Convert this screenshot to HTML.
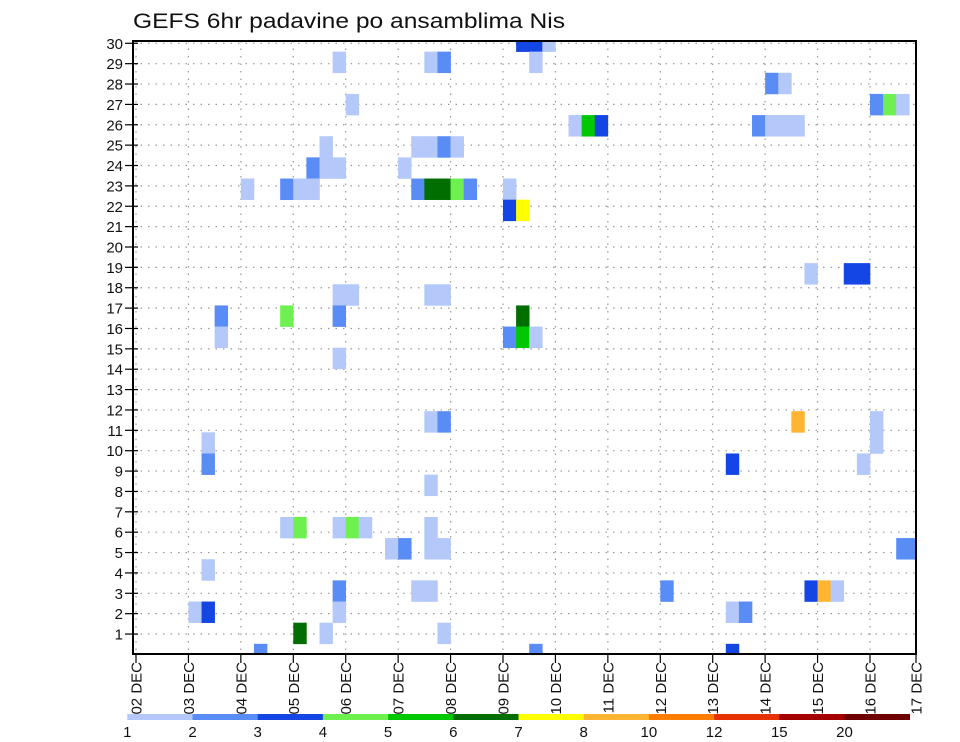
<!DOCTYPE html>
<html>
<head>
<meta charset="utf-8">
<style>
html,body{margin:0;padding:0;background:#fff;}
svg{display:block;}
text{font-family:"Liberation Sans",sans-serif;fill:#111;}
</style>
</head>
<body>
<svg id="chart" width="960" height="742" viewBox="0 0 960 742" xmlns="http://www.w3.org/2000/svg">
  <rect x="0" y="0" width="960" height="742" fill="#fff"/>
  <text x="133" y="28" font-size="21" textLength="432" lengthAdjust="spacingAndGlyphs">GEFS 6hr padavine po ansamblima Nis</text>
  <defs><clipPath id="plotclip"><rect x="133" y="41" width="783" height="613"/></clipPath></defs>
  <g id="grid"></g>
  <g id="cells" clip-path="url(#plotclip)"></g>
  <g id="axes"></g>
  <g id="colorbar"></g>
</svg>
<script>
// ---- data ----
const memberLabels = [1,2,3,4,5,6,7,8,9,10,11,12,13,14,15,16,17,18,19,20,21,22,23,24,25,26,27,28,29,30];
const dayLabels = ["02 DEC","03 DEC","04 DEC","05 DEC","06 DEC","07 DEC","08 DEC","09 DEC","10 DEC","11 DEC","12 DEC","13 DEC","14 DEC","15 DEC","16 DEC","17 DEC"];
const levelLabels = ["1","2","3","4","5","6","7","8","10","12","15","20"];
const levelBounds = [1,2,3,4,5,6,7,8,10,12,15,20,1000];
const levelColors = ["#b4c8fa","#5a8cf5","#1446e6","#6ef050","#00c800","#006e00","#ffff00","#ffb432","#ff7d00","#e63200","#a50000","#6e0000"];
// cell row (ensemble member index), 6h time step index, precipitation value
const cellRow = [29,29,29, 28,28,28,28, 27,27, 26,26,26,26, 25,25,25,25,25,25,25, 24,24,24,24,24, 23,23,23,23,
  22,22,22,22,22,22,22,22,22,22, 21,21, 18,18,18, 17,17,17,17, 16,16,16,16, 15,15,15,15, 14,
  11,11,11,11, 10,10, 9,9,9, 8, 6,6,6,6,6,6, 5,5,5,5,5,5, 4, 3,3,3,3,3,3,3, 2,2,2,2,2, 1,1,1, 0,0,0];
const cellTime = [29,30,31, 15,22,23,30, 48,49, 16,56,57,58, 33,34,35,47,48,49,50, 14,21,22,23,24, 13,14,15,20,
  8,11,12,13,21,22,23,24,25,28, 28,29, 51,54,55, 15,16,22,23, 6,11,15,29, 6,28,29,30, 15,
  22,23,50,56, 5,56, 5,45,55, 22, 11,12,15,16,17,22, 19,20,22,23,58,59, 5, 15,21,22,40,51,52,53, 4,5,15,45,46, 12,14,23, 9,30,45];
const cellValue = [3.5,3.5,1.5, 1.5,1.5,2.5,1.5, 2.5,1.5, 1.5,2.5,4.5,1.5, 1.5,5.5,3.5,2.5,1.5,1.5,1.5, 1.5,1.5,1.5,2.5,1.5, 2.5,1.5,1.5,1.5,
  1.5,2.5,1.5,1.5,2.5,6.5,6.5,4.5,2.5,1.5, 3.5,7.5, 1.5,3.5,3.5, 1.5,1.5,1.5,1.5, 2.5,4.5,2.5,6.5, 1.5,2.5,5.5,1.5, 1.5,
  1.5,2.5,9,1.5, 1.5,1.5, 2.5,3.5,1.5, 1.5, 1.5,4.5,1.5,4.5,1.5,1.5, 1.5,2.5,1.5,1.5,2.5,2.5, 1.5, 2.5,1.5,1.5,2.5,3.5,9,1.5, 1.5,3.5,1.5,1.5,2.5, 6.5,1.5,1.5, 2.5,2.5,3.5];

// ---- axis functions ----
const PL=133, PR=916, PT=41, PB=654;
const xStep = 13.107;
function xTime(t){ return 136 + t*xStep; }
function xDay(d){ return Math.min(136 + d*4*xStep, PR); }
function yMember(m){ return 654.4 - m*20.37; }
function yRow(j){ return 654.4 - j*21.15; }
const rowH = 21.15;
function colorFor(v){ for(let i=0;i<levelColors.length;i++){ if(v>=levelBounds[i] && v<levelBounds[i+1]) return levelColors[i]; } return "#fff"; }
const cbX0 = 127.3, cbW = 65.2;
function xLevel(i){ return cbX0 + i*cbW; }

const NS="http://www.w3.org/2000/svg";
function mk(tag, attrs, parent){ const e=document.createElementNS(NS,tag); for(const k in attrs) e.setAttribute(k, attrs[k]); parent.appendChild(e); return e; }

const grid=document.getElementById('grid');
const cells=document.getElementById('cells');
const axes=document.getElementById('axes');
const cb=document.getElementById('colorbar');

memberLabels.forEach(m=>{
  const y=yMember(m);
  const l=mk('line',{x1:PL,x2:PR,y1:y,y2:y,stroke:'#999','stroke-width':1.2,'stroke-dasharray':'1.5,6'},grid);
  
  
});
dayLabels.forEach((d,i)=>{
  const x=xDay(i);
  const l=mk('line',{x1:x,x2:x,y1:PT,y2:PB,stroke:'#999','stroke-width':1.2,'stroke-dasharray':'1.5,6'},grid);
  
  
});

for(let i=0;i<cellRow.length;i++){
  const x=xTime(cellTime[i]);
  const y=yRow(cellRow[i])-rowH/2;
  const r=mk('rect',{x:x,y:y,width:xStep+0.3,height:rowH+0.3,fill:colorFor(cellValue[i])},cells);
  
  
}

const fr=mk('rect',{x:PL,y:PT,width:PR-PL,height:PB-PT,fill:'none',stroke:'#000','stroke-width':2},axes);



memberLabels.forEach(m=>{
  const y=yMember(m);
  const tk=mk('line',{x1:PL-8,x2:PL+5,y1:y,y2:y,stroke:'#000','stroke-width':1.2},axes);
  
  
  const t=mk('text',{x:PL-10,y:y+5.5,'font-size':15,'text-anchor':'end'},axes);
  t.textContent=String(m);
  
  
});

dayLabels.forEach((d,i)=>{
  const x=xDay(i);
  const tk=mk('line',{x1:x,x2:x,y1:PB,y2:PB+9,stroke:'#000','stroke-width':1.2},axes);
  
  
  const t=mk('text',{x:0,y:0,'font-size':15,'text-anchor':'end',transform:'translate('+(x+5.5)+','+(PB+8)+') rotate(-90)'},axes);
  t.textContent=d;
  
  
});

levelColors.forEach((c,i)=>{
  const r=mk('rect',{x:xLevel(i),y:714,width:cbW+0.3,height:6,fill:c},cb);
  
  
});
levelLabels.forEach((s,i)=>{
  const t=mk('text',{x:xLevel(i),y:737,'font-size':15,'text-anchor':'middle'},cb);
  t.textContent=s;
  
  
});
</script>
</body>
</html>
